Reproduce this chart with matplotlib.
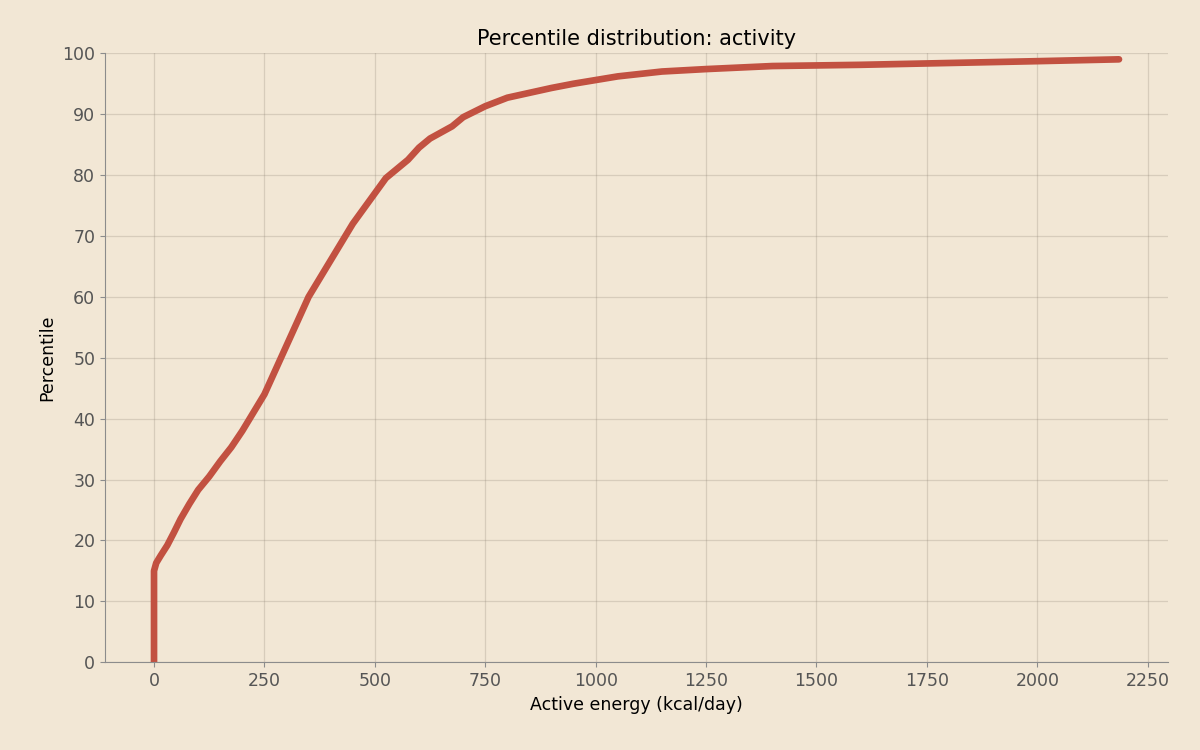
import matplotlib
matplotlib.use("Agg")
import matplotlib.pyplot as plt

# values
energy = [0, 0, 0, 5, 15, 30, 45, 60, 80, 100, 125, 150, 175, 200, 225, 250, 275, 300,
          325, 350, 375, 400, 425, 450, 475, 500, 525, 550, 575, 600, 625, 650, 675,
          700, 750, 800, 850, 900, 950, 1000, 1050, 1100, 1150, 1250, 1400, 1600,
          1800, 2000, 2185]
percentile = [0, 10, 15, 16.3, 17.5, 19.2, 21.3, 23.5, 26, 28.3, 30.5, 33, 35.3, 38,
              41, 44, 48, 52, 56, 60, 63, 66, 69, 72, 74.5, 77, 79.5, 81, 82.5, 84.5,
              86, 87, 88, 89.5, 91.3, 92.7, 93.5, 94.3, 95, 95.6, 96.2, 96.6, 97,
              97.4, 97.9, 98.1, 98.4, 98.7, 99]

bg = '#f2e7d5'
fig, ax = plt.subplots(figsize=(12, 7.5), dpi=100)
fig.patch.set_facecolor(bg)
ax.set_facecolor(bg)
fig.subplots_adjust(left=0.0875, right=0.973, top=0.929, bottom=0.117)

ax.plot(energy, percentile, color='#c25141', lw=4.8, solid_capstyle='round')

ax.set_xlim(-111, 2295)
ax.set_ylim(0, 100)
ax.set_xticks(range(0, 2251, 250))
ax.set_yticks(range(0, 101, 10))
ax.grid(True, color='#8a7f70', alpha=0.25, lw=0.9)
for s in ['top', 'right']:
    ax.spines[s].set_visible(False)
for s in ['left', 'bottom']:
    ax.spines[s].set_color('#8c8c8c')
ax.tick_params(colors='#8c8c8c', labelcolor='#555555', labelsize=12.5)

ax.set_title('Percentile distribution: activity', fontsize=15)
ax.set_xlabel('Active energy (kcal/day)', fontsize=12.5)
ax.set_ylabel('Percentile', fontsize=12.5)

fig.savefig('out.png', facecolor=bg)
